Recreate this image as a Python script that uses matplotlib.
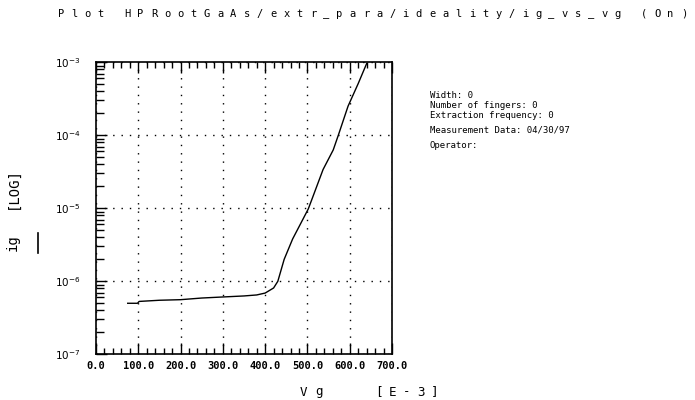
import numpy as np
import matplotlib
matplotlib.use("Agg")
import matplotlib.pyplot as plt
from matplotlib.lines import Line2D
from matplotlib.ticker import MultipleLocator, FormatStrFormatter, LogLocator

W, H = 695, 400
MONO = "DejaVu Sans Mono"

TITULO = "Plot HPRootGaAs/extr_para/ideality/ig_vs_vg (On)"
INFO = [
    ("Width: 0", 95),
    ("Number of fingers: 0", 105),
    ("Extraction frequency: 0", 115),
    ("Measurement Data: 04/30/97", 130),
    ("Operator:", 145),
]

# Vg em mV, ig em A
vg = [75, 98, 102, 150, 200, 250, 300, 350, 380, 400, 420, 430, 445, 465,
      486, 502, 510, 537, 561, 573, 596, 620, 640]
ig = [5.0e-7, 5.0e-7, 5.3e-7, 5.5e-7, 5.6e-7, 5.9e-7, 6.1e-7, 6.3e-7, 6.5e-7,
      6.9e-7, 8.1e-7, 1.0e-6, 2.0e-6, 3.8e-6, 6.5e-6, 9.8e-6, 1.3e-5, 3.4e-5,
      6.3e-5, 1.0e-4, 2.5e-4, 5.1e-4, 9.6e-4]

x_ticks = np.arange(0, 701, 100)
y_ticks = [1e-7, 1e-6, 1e-5, 1e-4, 1e-3]


def texto_espacado(fig, x_px, y_px, s, passo, **kw):
    # letras com espacamento largo, como no plotter original
    for i, ch in enumerate(s):
        fig.text((x_px + i * passo) / W, 1 - y_px / H, ch,
                 ha="left", va="center", **kw)


fig = plt.figure(figsize=(W / 100, H / 100), dpi=100)
ax = fig.add_axes([96 / W, 1 - 354.3 / H, (392 - 96) / W, (354.3 - 62.3) / H])

ax.plot(vg, ig, color="black", linewidth=1.0)
ax.set_yscale("log")
ax.set_xlim(0, 700)
ax.set_ylim(1e-7, 1e-3)

ax.set_xticks(x_ticks)
ax.xaxis.set_major_formatter(FormatStrFormatter("%.1f"))
ax.xaxis.set_minor_locator(MultipleLocator(20))
ax.set_yticks(y_ticks)
ax.yaxis.set_minor_locator(LogLocator(base=10, subs=np.arange(2, 10)))
ax.yaxis.set_minor_formatter(plt.NullFormatter())

ax.grid(True, which="major", color="black", linestyle=(0, (1, 5)), linewidth=1.0)

ax.tick_params(axis="x", which="both", direction="in", top=True, bottom=True,
               labelsize=7.5, pad=5, width=1)
ax.tick_params(axis="x", which="major", length=8)
ax.tick_params(axis="x", which="minor", length=4.5)
ax.tick_params(axis="y", which="both", direction="in", left=True, right=False,
               labelsize=7.5, pad=11, width=1)
ax.tick_params(axis="y", which="major", length=8)
ax.tick_params(axis="y", which="minor", length=6)
for lbl in ax.get_xticklabels():
    lbl.set_fontfamily(MONO)
    lbl.set_fontweight("bold")

for sp in ax.spines.values():
    sp.set_linewidth(1.2)

# titulo
texto_espacado(fig, 58, 14, TITULO, 13.25, fontsize=7.5, family=MONO)

# rotulos dos eixos
fig.text(13 / W, 1 - 243 / H, "ig", rotation=90, ha="center", va="center",
         fontsize=10, family=MONO)
fig.text(13 / W, 1 - 188 / H, "[LOG]", rotation=90, ha="center", va="center",
         fontsize=10, family=MONO)
fig.add_artist(Line2D([38 / W, 38 / W], [1 - 233 / H, 1 - 253 / H],
                      color="black", linewidth=1.2, transform=fig.transFigure))
texto_espacado(fig, 300, 392, "Vg", 15, fontsize=9, family=MONO)
texto_espacado(fig, 375, 392, "[E-3]", 14, fontsize=9, family=MONO)

# bloco de informacoes
for linha, y_px in INFO:
    fig.text(430 / W, 1 - y_px / H, linha, ha="left", va="center",
             fontsize=6.5, family=MONO)

fig.savefig("out.png", dpi=100)
